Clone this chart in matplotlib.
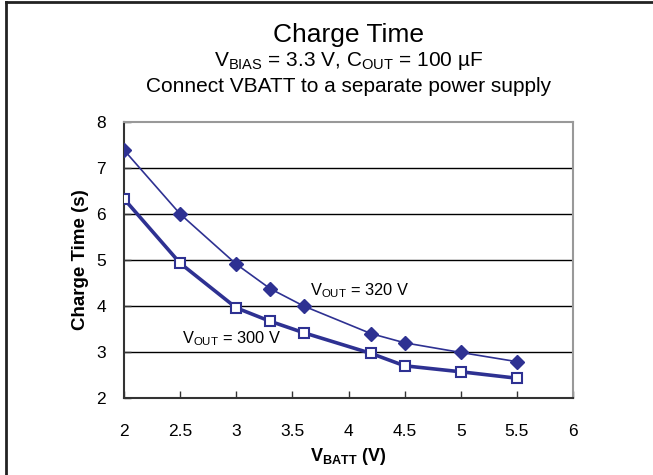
import matplotlib
matplotlib.use("Agg")
import matplotlib.pyplot as plt
from matplotlib.lines import Line2D

plt.rcParams['font.family'] = ['Liberation Sans', 'DejaVu Sans']
plt.rcParams['mathtext.fontset'] = 'custom'
plt.rcParams['mathtext.rm'] = 'Liberation Sans'
plt.rcParams['mathtext.it'] = 'Liberation Sans'
plt.rcParams['mathtext.bf'] = 'Liberation Sans:bold'

# data
vbatt = [2.0, 2.5, 3.0, 3.3, 3.6, 4.2, 4.5, 5.0, 5.5]
t_320 = [7.39, 6.0, 4.91, 4.38, 4.0, 3.40, 3.20, 2.99, 2.79]
t_300 = [6.33, 4.93, 3.96, 3.67, 3.42, 2.97, 2.70, 2.57, 2.43]
x_ticks = [2, 2.5, 3, 3.5, 4, 4.5, 5, 5.5, 6]
y_ticks = [2, 3, 4, 5, 6, 7, 8]

blue = '#2e3192'

fig = plt.figure(figsize=(6.53, 4.75), dpi=100)
ax = fig.add_axes([124 / 653, 1 - 398 / 475, (573 - 124) / 653, (398 - 122) / 475])

# grid lines
for y in y_ticks[1:-1]:
    ax.axhline(y, color='black', linewidth=1.0, zorder=1)

ax.plot(vbatt, t_300, color=blue, linewidth=2.6, marker='s', markersize=6.5,
        markerfacecolor='white', markeredgecolor=blue, markeredgewidth=1.5, zorder=3)
ax.plot(vbatt, t_320, color=blue, linewidth=1.2, marker='D', markersize=7,
        markerfacecolor=blue, markeredgecolor=blue, zorder=4)

ax.text(3.66, 4.33, r'V$_{\mathrm{OUT}}$ = 320 V', fontsize=11.8, va='center', ha='left')
ax.text(2.52, 3.28, r'V$_{\mathrm{OUT}}$ = 300 V', fontsize=11.8, va='center', ha='left')

ax.set_xlim(2, 6)
ax.set_ylim(2, 8)
ax.set_xticks(x_ticks)
ax.set_xticklabels(['2', '2.5', '3', '3.5', '4', '4.5', '5', '5.5', '6'])
ax.set_yticks(y_ticks)
ax.tick_params(direction='in', length=5, width=1, labelsize=12.5, color='#333333',
               top=False, right=False)
ax.tick_params(axis='x', pad=19)
ax.tick_params(axis='y', pad=13)

for side in ['left', 'bottom']:
    ax.spines[side].set_color('#333333')
    ax.spines[side].set_linewidth(1.5)
for side in ['top', 'right']:
    ax.spines[side].set_color('#999999')
    ax.spines[side].set_linewidth(1.5)

ax.set_xlabel(r'$\mathbf{V_{BATT}}$ (V)', fontsize=13, fontweight='bold', labelpad=5)
ax.set_ylabel('Charge Time (s)', fontsize=13.5, fontweight='bold', labelpad=5)

# title block
cx = (124 + 573) / 2 / 653
fig.text(cx, 1 - 35 / 475, 'Charge Time', fontsize=19, ha='center', va='center')
fig.text(cx, 1 - 61 / 475, r'V$_{\mathrm{BIAS}}$ = 3.3 V, C$_{\mathrm{OUT}}$ = 100 µF',
         fontsize=15, ha='center', va='center')
fig.text(cx, 1 - 86 / 475, 'Connect VBATT to a separate power supply',
         fontsize=15, ha='center', va='center')

# outer frame (left and top edges)
fig.add_artist(Line2D([5.5 / 653, 5.5 / 653], [0, 1 - 2 / 475], color='#222222', linewidth=2))
fig.add_artist(Line2D([5.5 / 653, 1], [1 - 2 / 475, 1 - 2 / 475], color='#222222', linewidth=2))

fig.savefig('out.png', dpi=100)
